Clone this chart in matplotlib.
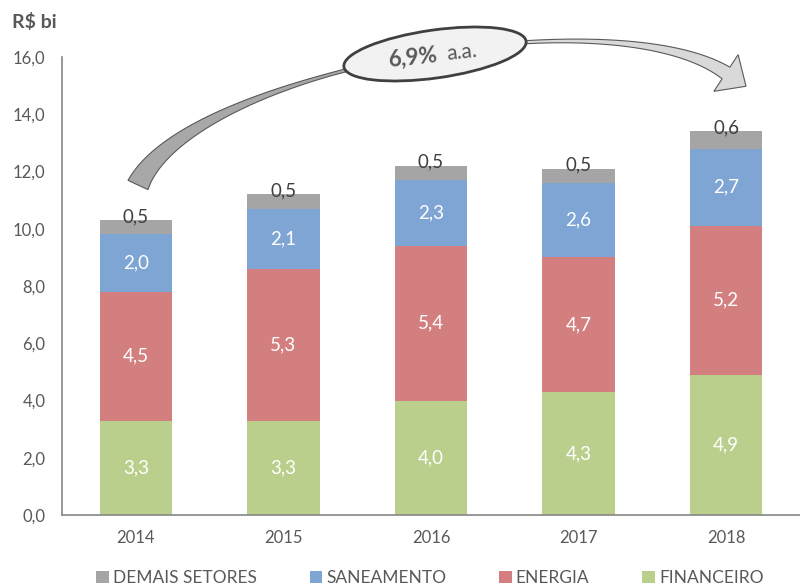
import numpy as np
import matplotlib.pyplot as plt
from matplotlib.patches import Ellipse, Polygon

plt.rcParams['font.family'] = ['Lato', 'DejaVu Sans']

years = ['2014', '2015', '2016', '2017', '2018']
financeiro = [3.3, 3.3, 4.0, 4.3, 4.9]
energia = [4.5, 5.3, 5.4, 4.7, 5.2]
saneamento = [2.0, 2.1, 2.3, 2.6, 2.7]
demais = [0.5, 0.5, 0.5, 0.5, 0.6]
taxa = '6,9%'

colors = {'FINANCEIRO': '#BACF8C', 'ENERGIA': '#D47F7F',
          'SANEAMENTO': '#7EA5D3', 'DEMAIS SETORES': '#A5A5A5'}
txt = '#595959'

fig = plt.figure(figsize=(8, 5.88), dpi=100)
ax = fig.add_axes([0.0775, 0.1241, 0.9225, 0.779])

x = range(len(years))
bottom = [0.0] * len(years)
bars = {}
for name, vals in [('FINANCEIRO', financeiro), ('ENERGIA', energia),
                   ('SANEAMENTO', saneamento), ('DEMAIS SETORES', demais)]:
    bars[name] = ax.bar(x, vals, 0.49, bottom=bottom, color=colors[name],
                        label=name)
    for i, v in enumerate(vals):
        lbl = f'{v:.1f}'.replace('.', ',')
        if name == 'DEMAIS SETORES':
            ax.text(i, bottom[i] + v + 0.12, lbl, ha='center', va='center',
                    fontsize=13.5, color='#404040')
        else:
            ax.text(i, bottom[i] + v / 2, lbl, ha='center', va='center',
                    fontsize=13.5, color='white')
    bottom = [b + v for b, v in zip(bottom, vals)]

ax.set_xlim(-0.5, 4.5)
ax.set_ylim(0, 16)
ax.set_xticks(list(x))
ax.set_xticklabels(years)
ax.set_yticks([0, 2, 4, 6, 8, 10, 12, 14, 16])
ax.set_yticklabels([f'{t:.1f}'.replace('.', ',') for t in range(0, 17, 2)])
ax.tick_params(length=0, labelsize=12, colors=txt, pad=12)
ax.tick_params(axis='x', pad=11)
for s in ['top', 'right']:
    ax.spines[s].set_visible(False)
for s in ['left', 'bottom']:
    ax.spines[s].set_color('#868686')
    ax.spines[s].set_linewidth(1.2)

fig.text(12 / 800, 1 - 22 / 588, 'R$ bi', fontsize=14, fontweight='bold',
         color=txt, va='center', ha='left')

order = ['DEMAIS SETORES', 'SANEAMENTO', 'ENERGIA', 'FINANCEIRO']
fig.legend([bars[n] for n in order], order, loc='center',
           bbox_to_anchor=(0.5375, 1 - 578 / 588), ncol=4, frameon=False,
           fontsize=12.5, labelcolor=txt, handlelength=0.7, handleheight=0.7,
           handletextpad=0.25, columnspacing=3.05)

# overlay in pixel units for the curved growth arrow
ov = fig.add_axes([0, 0, 1, 1])
ov.set_xlim(0, 800)
ov.set_ylim(588, 0)
ov.axis('off')

P = np.array([[138, 185], [190, 70], [610, -5], [726, 73]], float)
t = np.linspace(0, 1, 300)[:, None]
c = ((1 - t) ** 3 * P[0] + 3 * (1 - t) ** 2 * t * P[1]
     + 3 * (1 - t) * t ** 2 * P[2] + t ** 3 * P[3])
d = np.gradient(c, axis=0)
d /= np.linalg.norm(d, axis=1)[:, None]
n = np.column_stack([-d[:, 1], d[:, 0]])
tt = t[:, 0]
w = (3 + 19 * np.clip(1 - tt / 0.4, 0, None) ** 1.5
     + 11 * np.clip((tt - 0.62) / 0.38, 0, None) ** 2)
left = c + n * w[:, None] / 2
right = c - n * w[:, None] / 2

half = tt <= 0.5
ov.add_patch(Polygon(np.vstack([left[half], right[half][::-1]]),
                     closed=True, facecolor='#A8A8A8', edgecolor='#595959',
                     lw=0.8))
end, de, ne = c[-1], d[-1], n[-1]
head = [end + ne * 22, end + de * 24, end - ne * 22]
sec = tt >= 0.45
poly = np.vstack([left[sec], head[0:1], head[1:2], head[2:3], right[sec][::-1]])
ov.add_patch(Polygon(poly, closed=True, facecolor='#D9D9D9',
                     edgecolor='#595959', lw=0.8))

ov.add_patch(Ellipse((435, 54), 184, 48, angle=-8, facecolor='#F2F2F2',
                     edgecolor='#404040', lw=2))
ov.text(413, 58, taxa, fontsize=16, fontweight='bold', color=txt,
        ha='center', va='center', rotation=6)
ov.text(462, 52, 'a.a.', fontsize=15, color=txt, ha='center', va='center',
        rotation=6)

fig.savefig('out.png', dpi=100)
